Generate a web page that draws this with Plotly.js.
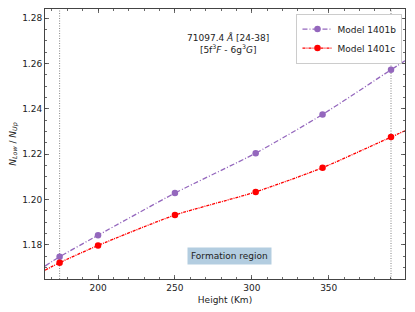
<!DOCTYPE html>
<html><head><meta charset="utf-8">
<script src="https://cdn.plot.ly/plotly-3.0.1.min.js"></script>
<style>html,body{margin:0;padding:0;background:#fff}#chart{width:415px;height:312px}</style>
</head><body><div id="chart"></div>
<script>
// Data
const heights = [175, 200, 250, 302.5, 346, 390.5];
const model1401b = [1.1747, 1.1842, 1.2028, 1.2204, 1.2375, 1.2572];
const model1401c = [1.1721, 1.1797, 1.1931, 1.2033, 1.2140, 1.2275];
// fitted curves (extended to axis edges)
const fitHeights = [165.5, 175, 200, 250, 302.5, 346, 390.5, 399.6];
const fit1401b = [1.1706, 1.1747, 1.1842, 1.2028, 1.2204, 1.2375, 1.2572, 1.2612];
const fit1401c = [1.1688, 1.1721, 1.1797, 1.1931, 1.2033, 1.2140, 1.2275, 1.2303];
const formationBounds = [175, 390.5];
const seriesNames = ['Model 1401b', 'Model 1401c'];
const xTicks = [200, 250, 300, 350];
const yTicks = [1.18, 1.20, 1.22, 1.24, 1.26, 1.28];

const purple = '#9467bd', red = '#ff0000';
const font = {family: 'DejaVu Sans, sans-serif', size: 9, color: '#222'};
const dashB = '5px,2px,1px,2px';
const dashC = '3px,1px,1px,1px';

const traces = [
  {x: fitHeights, y: fit1401b, mode: 'lines', line: {color: purple, width: 1.3, dash: dashB, shape: 'spline', smoothing: 0.6}, showlegend: false, hoverinfo: 'skip'},
  {x: fitHeights, y: fit1401c, mode: 'lines', line: {color: red, width: 1.3, dash: dashC, shape: 'spline', smoothing: 0.6}, showlegend: false, hoverinfo: 'skip'},
  {x: heights, y: model1401b, mode: 'markers', marker: {color: purple, size: 6.5}, showlegend: false},
  {x: heights, y: model1401c, mode: 'markers', marker: {color: red, size: 6.5}, showlegend: false},
  {x: [null], y: [null], name: seriesNames[0], mode: 'lines+markers', line: {color: purple, width: 1.3, dash: dashB}, marker: {color: purple, size: 6.5}},
  {x: [null], y: [null], name: seriesNames[1], mode: 'lines+markers', line: {color: red, width: 1.3, dash: dashC}, marker: {color: red, size: 6.5}}
];

const axisCommon = {
  showline: true, linecolor: '#444', linewidth: 1, mirror: 'ticks',
  ticks: 'inside', ticklen: 4, tickwidth: 0.8, tickcolor: '#444',
  showgrid: false, zeroline: false, tickfont: font
};

const shapes = formationBounds.map(v => ({
  type: 'line', xref: 'x', yref: 'paper', x0: v, x1: v, y0: 0, y1: 1,
  line: {color: '#777', width: 0.9, dash: '1px,1.5px'}, layer: 'below'
}));

const layout = {
  width: 415, height: 312,
  margin: {l: 45, r: 9.5, t: 9, b: 33},
  paper_bgcolor: '#fff', plot_bgcolor: '#fff',
  font: font,
  xaxis: Object.assign({}, axisCommon, {
    range: [165.5, 399.6], tickvals: xTicks, ticktext: xTicks.map(String),
    minor: {dtick: 10, tick0: 0, ticks: 'inside', ticklen: 2, tickcolor: '#444'},
    title: {text: 'Height (Km)', font: font, standoff: 4}
  }),
  yaxis: Object.assign({}, axisCommon, {
    range: [1.1649, 1.284], tickvals: yTicks, ticktext: yTicks.map(v => v.toFixed(2)),
    minor: {dtick: 0.005, tick0: 0, ticks: 'inside', ticklen: 2, tickcolor: '#444'},
    title: {text: '<i>N</i><sub><i>Low</i></sub> / <i>N</i><sub><i>Up</i></sub>', font: font, standoff: 4}
  }),
  legend: {x: 0.993, y: 0.983, xanchor: 'right', yanchor: 'top', bgcolor: '#fff', bordercolor: '#ccc', borderwidth: 1, font: font, tracegroupgap: 0, itemwidth: 30},
  shapes: shapes,
  annotations: [
    {xref: 'paper', yref: 'paper', x: (228.7 - 45) / 360.7, y: (279 - 30) / 270, showarrow: false,
     text: '71097.4 <i>Å</i> [24-38]<br>[5f<sup>3</sup><i>F</i> - 6g<sup>3</sup><i>G</i>]', font: font, align: 'center'},
    {xref: 'paper', yref: 'paper', x: (229.5 - 45) / 360.7, y: (279 - 264.5) / 270, showarrow: false,
     text: 'Formation region', font: font, bgcolor: '#b3cde0', borderpad: 3}
  ]
};

Plotly.newPlot('chart', traces, layout, {staticPlot: true, displayModeBar: false});
</script></body></html>
